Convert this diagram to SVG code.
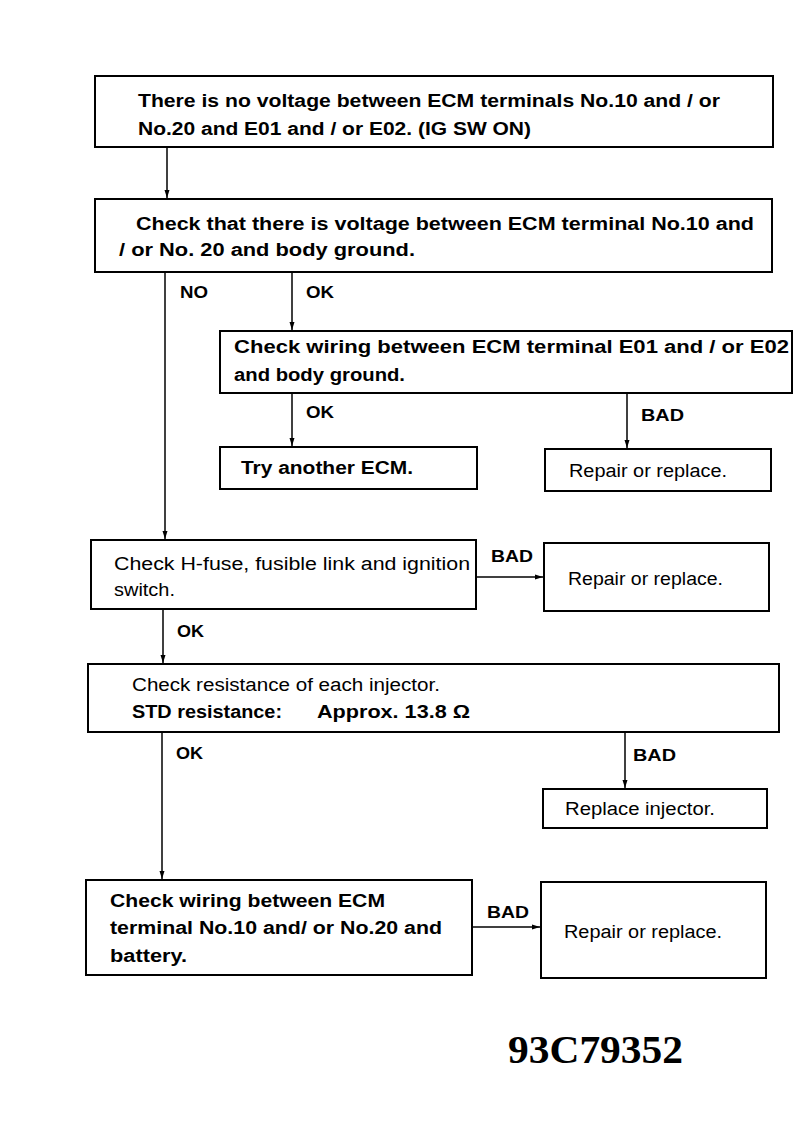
<svg xmlns="http://www.w3.org/2000/svg" width="812" height="1138" viewBox="0 0 812 1138">
<style>
.box{fill:#fff;stroke:#000;stroke-width:2}
.t{font-family:"Liberation Sans",Arial,sans-serif;font-size:18px;font-weight:bold;fill:#000}
.r{font-family:"Liberation Sans",Arial,sans-serif;font-size:18px;fill:#000}
.lbl{font-family:"Liberation Sans",Arial,sans-serif;font-size:17px;font-weight:bold;fill:#000}
.ln{stroke:#000;stroke-width:1.5;fill:none}
</style>
<defs>
<marker id="ah" markerWidth="8" markerHeight="6" refX="8" refY="3" orient="auto" markerUnits="userSpaceOnUse">
<path d="M0,0.5 L8,3 L0,5.5 Z" fill="#000"/>
</marker>
</defs>
<rect width="812" height="1138" fill="#fff"/>
<g id="connectors">
<line class="ln" x1="167" y1="147" x2="167" y2="198" marker-end="url(#ah)"/>
<line class="ln" x1="165" y1="272" x2="165" y2="539" marker-end="url(#ah)"/>
<text class="lbl" x="180" y="298" textLength="28" lengthAdjust="spacingAndGlyphs">NO</text>
<line class="ln" x1="292" y1="272" x2="292" y2="330" marker-end="url(#ah)"/>
<text class="lbl" x="306" y="298" textLength="28" lengthAdjust="spacingAndGlyphs">OK</text>
<line class="ln" x1="292" y1="393" x2="292" y2="446" marker-end="url(#ah)"/>
<text class="lbl" x="306" y="418" textLength="28" lengthAdjust="spacingAndGlyphs">OK</text>
<line class="ln" x1="627" y1="393" x2="627" y2="448" marker-end="url(#ah)"/>
<text class="lbl" x="641" y="421" textLength="43" lengthAdjust="spacingAndGlyphs">BAD</text>
<line class="ln" x1="476" y1="577" x2="543" y2="577" marker-end="url(#ah)"/>
<text class="lbl" x="491" y="562" textLength="42" lengthAdjust="spacingAndGlyphs">BAD</text>
<line class="ln" x1="163" y1="609" x2="163" y2="663" marker-end="url(#ah)"/>
<text class="lbl" x="177" y="637" textLength="27" lengthAdjust="spacingAndGlyphs">OK</text>
<line class="ln" x1="162" y1="732" x2="162" y2="879" marker-end="url(#ah)"/>
<text class="lbl" x="176" y="759" textLength="27" lengthAdjust="spacingAndGlyphs">OK</text>
<line class="ln" x1="625" y1="732" x2="625" y2="788" marker-end="url(#ah)"/>
<text class="lbl" x="633" y="761" textLength="43" lengthAdjust="spacingAndGlyphs">BAD</text>
<line class="ln" x1="472" y1="927" x2="540" y2="927" marker-end="url(#ah)"/>
<text class="lbl" x="487" y="918" textLength="42" lengthAdjust="spacingAndGlyphs">BAD</text>
</g>
<g id="n1">
<rect class="box" x="95" y="76" width="678" height="71"/>
<text class="t" x="138" y="107" textLength="582" lengthAdjust="spacingAndGlyphs">There is no voltage between ECM terminals No.10 and / or</text>
<text class="t" x="138" y="135" textLength="393" lengthAdjust="spacingAndGlyphs">No.20 and E01 and / or E02. (IG SW ON)</text>
</g>
<g id="n2">
<rect class="box" x="95" y="199" width="677" height="73"/>
<text class="t" x="136" y="230" textLength="618" lengthAdjust="spacingAndGlyphs">Check that there is voltage  between ECM terminal No.10 and</text>
<text class="t" x="119" y="256" textLength="296" lengthAdjust="spacingAndGlyphs">/ or No. 20 and body ground.</text>
</g>
<g id="n3">
<rect class="box" x="220" y="331" width="572" height="62"/>
<text class="t" x="234" y="353" textLength="555" lengthAdjust="spacingAndGlyphs">Check wiring between ECM terminal E01 and / or E02</text>
<text class="t" x="234" y="381" textLength="171" lengthAdjust="spacingAndGlyphs">and body ground.</text>
</g>
<g id="n4">
<rect class="box" x="220" y="447" width="257" height="42"/>
<text class="t" x="241" y="474" textLength="172" lengthAdjust="spacingAndGlyphs">Try another ECM.</text>
</g>
<g id="n5">
<rect class="box" x="545" y="449" width="226" height="42"/>
<text class="r" x="569" y="477" textLength="158" lengthAdjust="spacingAndGlyphs">Repair or replace.</text>
</g>
<g id="n6">
<rect class="box" x="91" y="540" width="385" height="69"/>
<text class="r" x="114" y="570" textLength="356" lengthAdjust="spacingAndGlyphs">Check H-fuse, fusible link and ignition</text>
<text class="r" x="114" y="596" textLength="61" lengthAdjust="spacingAndGlyphs">switch.</text>
</g>
<g id="n7">
<rect class="box" x="544" y="543" width="225" height="68"/>
<text class="r" x="568" y="585" textLength="155" lengthAdjust="spacingAndGlyphs">Repair or replace.</text>
</g>
<g id="n8">
<rect class="box" x="88" y="664" width="691" height="68"/>
<text class="r" x="132" y="691" textLength="308" lengthAdjust="spacingAndGlyphs">Check resistance of each injector.</text>
<text class="t" x="132" y="718" textLength="150" lengthAdjust="spacingAndGlyphs">STD resistance:</text>
<text class="t" x="317" y="718" textLength="153" lengthAdjust="spacingAndGlyphs">Approx. 13.8 Ω</text>
</g>
<g id="n9">
<rect class="box" x="543" y="789" width="224" height="39"/>
<text class="r" x="565" y="815" textLength="150" lengthAdjust="spacingAndGlyphs">Replace injector.</text>
</g>
<g id="n10">
<rect class="box" x="86" y="880" width="386" height="95"/>
<text class="t" x="110" y="907" textLength="275" lengthAdjust="spacingAndGlyphs">Check wiring between ECM</text>
<text class="t" x="110" y="934" textLength="332" lengthAdjust="spacingAndGlyphs">terminal No.10 and/ or No.20 and</text>
<text class="t" x="110" y="962" textLength="77" lengthAdjust="spacingAndGlyphs">battery.</text>
</g>
<g id="n11">
<rect class="box" x="541" y="882" width="225" height="96"/>
<text class="r" x="564" y="938" textLength="158" lengthAdjust="spacingAndGlyphs">Repair or replace.</text>
</g>
<text x="508" y="1063" font-family="'Liberation Serif','Times New Roman',serif" font-size="40" font-weight="bold" textLength="175" lengthAdjust="spacingAndGlyphs">93C79352</text>
</svg>
